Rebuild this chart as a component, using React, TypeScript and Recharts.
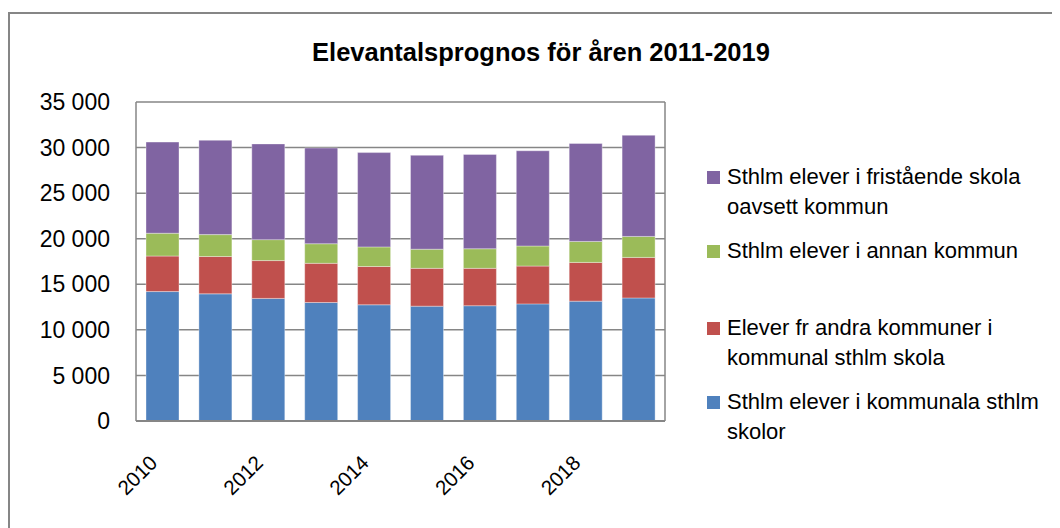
import { BarChart, Bar, XAxis, YAxis, CartesianGrid, Legend } from "recharts";

const years = ["2010", "2011", "2012", "2013", "2014", "2015", "2016", "2017", "2018", "2019"];
const kommunalaSthlm = [14200, 13950, 13450, 13000, 12750, 12600, 12650, 12850, 13150, 13500];
const andraKommuner = [3900, 4100, 4150, 4300, 4200, 4150, 4100, 4150, 4250, 4450];
const annanKommun = [2500, 2400, 2300, 2150, 2150, 2100, 2150, 2200, 2300, 2300];
const fristaende = [10000, 10350, 10500, 10500, 10350, 10300, 10350, 10450, 10750, 11100];
const yTicks = [0, 5000, 10000, 15000, 20000, 25000, 30000, 35000];

const title = "Elevantalsprognos för åren 2011-2019";
const names = {
  kommunala: "Sthlm elever i kommunala sthlm skolor",
  andra: "Elever fr andra kommuner i kommunal sthlm skola",
  annan: "Sthlm elever i annan kommun",
  fristaende: "Sthlm elever i fristående skola oavsett kommun",
};
// legend lists the top of the stack first
const legendOrder = ["fristaende", "annan", "andra", "kommunala"];

const data = years.map((year, i) => ({
  year,
  kommunala: kommunalaSthlm[i],
  andra: andraKommuner[i],
  annan: annanKommun[i],
  fristaende: fristaende[i],
}));

const FONT = "'Liberation Sans', Arial, sans-serif";
const GRID = "#868686";

const fmt = (v: number) => String(v).replace(/\B(?=(\d{3})+(?!\d))/g, " ");

const YearTick = (props: any) => {
  const { x, y, payload } = props;
  return (
    <g transform={`translate(${x - 9},${y + 38})`}>
      <text transform="rotate(-45)" textAnchor="end" dy="0.35em" fontSize={20.5} fill="#000" fontFamily={FONT}>
        {payload.value}
      </text>
    </g>
  );
};

// excel spreads the legend entries unevenly
const itemGaps = [0, 14, 47, 14];

const LegendBox = (props: any) => {
  const items = [...(props.payload || [])].sort(
    (a: any, b: any) => legendOrder.indexOf(a.dataKey) - legendOrder.indexOf(b.dataKey)
  );
  return (
    <div style={{ fontFamily: FONT }}>
      {items.map((it: any, i: number) => (
        <div key={it.value} style={{ display: "flex", alignItems: "flex-start", marginTop: itemGaps[i] }}>
          <div style={{ width: 13, height: 13, background: it.color, marginTop: 9, marginRight: 7, flexShrink: 0 }} />
          <div style={{ fontSize: 22, lineHeight: "30px", width: 325, color: "#000" }}>{it.value}</div>
        </div>
      ))}
    </div>
  );
};

export default function App() {
  return (
    <div style={{ paddingTop: 4 }}>
      <div
        style={{
          position: "relative",
          width: 1050,
          height: 514,
          borderTop: `2px solid ${GRID}`,
          borderLeft: `2px solid ${GRID}`,
          fontFamily: FONT,
        }}
      >
        <div
          style={{
            position: "absolute",
            left: 0,
            top: 23,
            width: 1062,
            textAlign: "center",
            fontSize: 25.5,
            fontWeight: "bold",
            lineHeight: "30px",
            color: "#000",
          }}
        >
          {title}
        </div>
        <BarChart width={1050} height={514} data={data} margin={{ top: 88, right: 395, bottom: 0, left: 0 }}>
          <CartesianGrid
            stroke={GRID}
            strokeWidth={1.5}
            verticalCoordinatesGenerator={({ offset }: any) => [offset.left, offset.left + offset.width]}
          />
          <XAxis
            dataKey="year"
            interval={1}
            height={107}
            tickLine={false}
            tickSize={0}
            tickMargin={0}
            axisLine={{ stroke: GRID, strokeWidth: 2 }}
            tick={<YearTick />}
          />
          <YAxis
            width={126}
            domain={[0, 35000]}
            ticks={yTicks}
            tickFormatter={fmt}
            axisLine={false}
            tickLine={false}
            tickSize={0}
            tickMargin={26}
            tick={{ fontSize: 23, fill: "#000", fontFamily: FONT }}
          />
          <Legend
            layout="vertical"
            align="center"
            verticalAlign="middle"
            wrapperStyle={{ left: 697, top: 148, width: 345 }}
            content={<LegendBox />}
          />
          <Bar dataKey="kommunala" name={names.kommunala} stackId="a" fill="#4F81BD" barSize={33} stroke="#fff" strokeOpacity={0.35} isAnimationActive={false} />
          <Bar dataKey="andra" name={names.andra} stackId="a" fill="#C0504D" barSize={33} stroke="#fff" strokeOpacity={0.35} isAnimationActive={false} />
          <Bar dataKey="annan" name={names.annan} stackId="a" fill="#9BBB59" barSize={33} stroke="#fff" strokeOpacity={0.35} isAnimationActive={false} />
          <Bar dataKey="fristaende" name={names.fristaende} stackId="a" fill="#8064A2" barSize={33} stroke="#fff" strokeOpacity={0.35} isAnimationActive={false} />
        </BarChart>
      </div>
    </div>
  );
}
